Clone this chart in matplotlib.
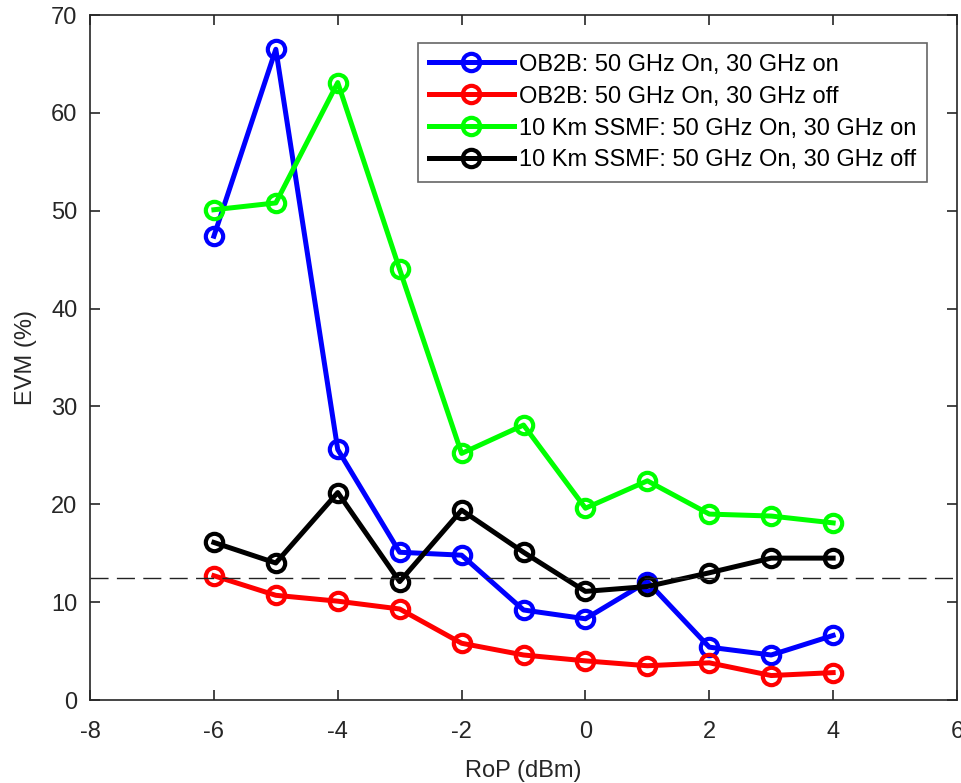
import numpy as np
import matplotlib.pyplot as plt

plt.rcParams['font.family'] = ['Liberation Sans', 'DejaVu Sans']
plt.rcParams['font.size'] = 17
plt.rcParams['axes.unicode_minus'] = False

rop = [-6, -5, -4, -3, -2, -1, 0, 1, 2, 3, 4]
b2b_on = [47.4, 66.5, 25.6, 15.1, 14.8, 9.2, 8.3, 12.1, 5.4, 4.6, 6.6]
b2b_off = [12.7, 10.7, 10.1, 9.3, 5.8, 4.6, 4.0, 3.5, 3.8, 2.5, 2.8]
ssmf_on = [50.1, 50.8, 63.1, 44.0, 25.2, 28.1, 19.6, 22.4, 19.0, 18.8, 18.1]
ssmf_off = [16.1, 14.0, 21.2, 12.1, 19.4, 15.1, 11.1, 11.6, 13.0, 14.5, 14.5]
threshold = 12.5

labels = ['OB2B: 50 GHz On, 30 GHz on',
          'OB2B: 50 GHz On, 30 GHz off',
          '10 Km SSMF: 50 GHz On, 30 GHz on',
          '10 Km SSMF: 50 GHz On, 30 GHz off']
colors = ['#0000ff', '#ff0000', '#00ff00', '#000000']
dark = '#262626'

fig = plt.figure(figsize=(9.62, 7.83), dpi=100)
ax = fig.add_axes([0.0936, 0.106, 0.9012, 0.8748])

for ys, c, lab in zip([b2b_on, b2b_off, ssmf_on, ssmf_off], colors, labels):
    ax.plot(rop, ys, 'o-', color=c, lw=3.6, ms=12.5, mfc='none', mew=3, label=lab)

ax.axhline(threshold, color='#222222', ls=(0, (13, 6)), lw=1)

ax.set_xlim(-8, 6)
ax.set_ylim(0, 70)
ax.set_xticks(range(-8, 7, 2))
ax.set_yticks(range(0, 71, 10))
ax.tick_params(direction='in', length=7, width=1.2, colors=dark, labelsize=17,
               top=True, right=True)
ax.tick_params(axis='x', pad=15)
ax.tick_params(axis='y', pad=9)
for s in ax.spines.values():
    s.set_color(dark)
    s.set_linewidth(1.2)
ax.set_xlabel('RoP (dBm)', color=dark, fontsize=17, labelpad=12)
ax.set_ylabel('EVM (%)', color=dark, fontsize=17, labelpad=10)

leg = ax.legend(loc='upper right', bbox_to_anchor=(0.965, 0.959), fancybox=False,
                framealpha=1, edgecolor='#666666', fontsize=17, handlelength=3.6,
                handletextpad=0.2, borderpad=0.45, labelspacing=0.42,
                borderaxespad=0)
leg.get_frame().set_linewidth(1.2)

fig.savefig('out.png', dpi=100)
